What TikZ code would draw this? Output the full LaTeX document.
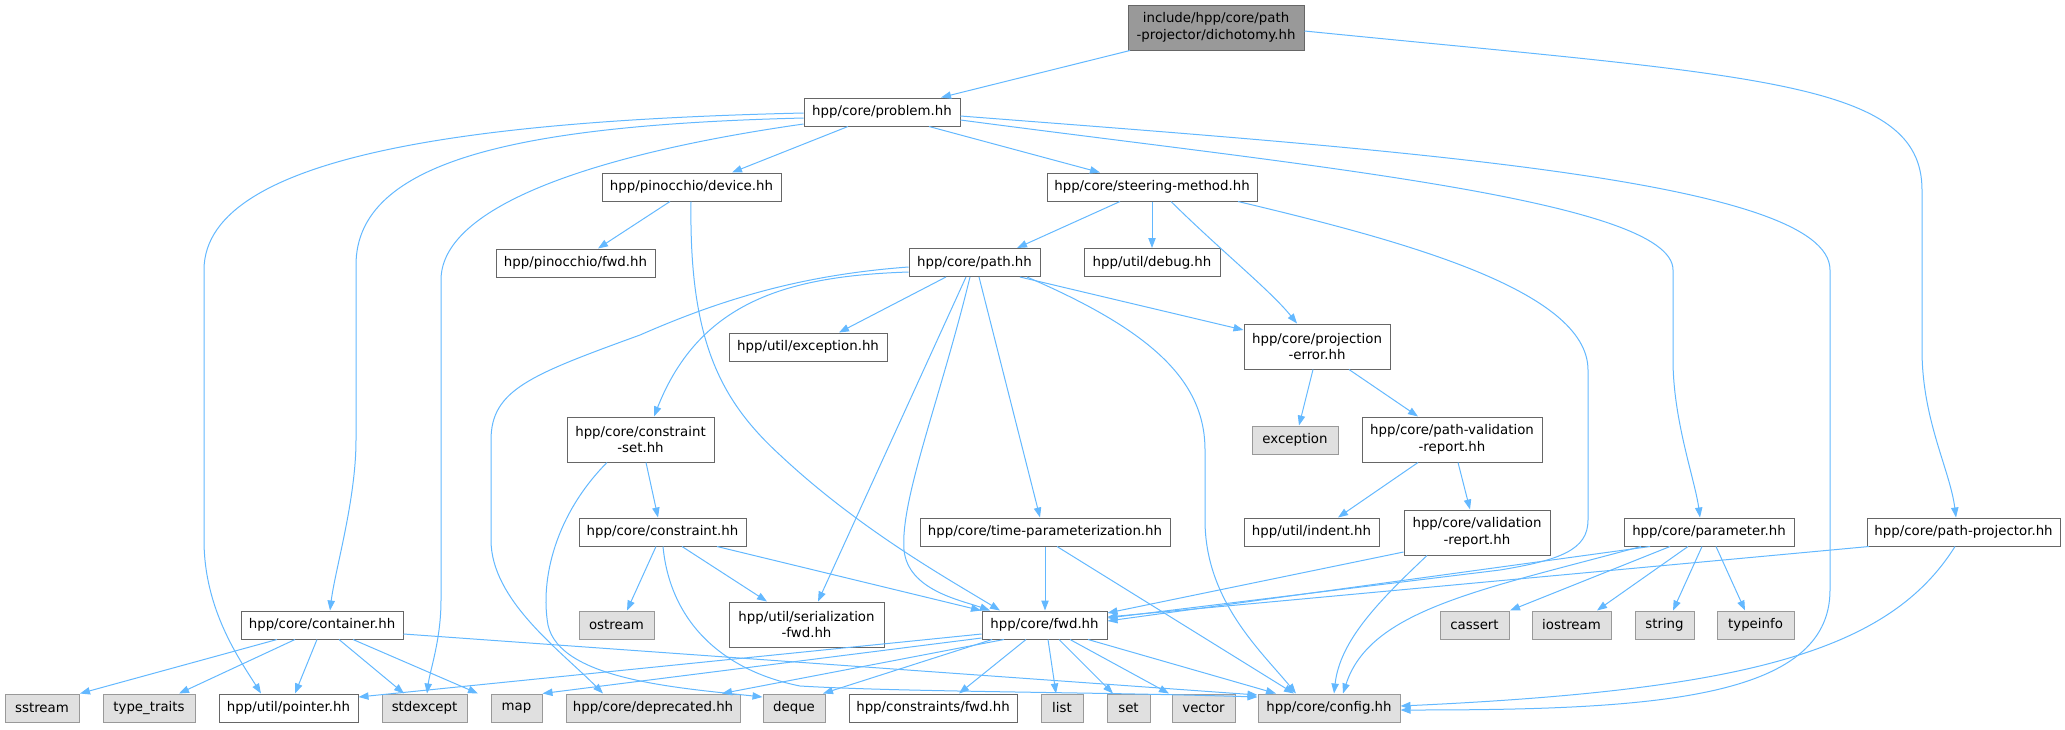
\documentclass[tikz,border=0pt]{standalone}
\usepackage{fontspec}
\setmainfont{DejaVu Sans}
\usetikzlibrary{arrows.meta}
\definecolor{edgec}{HTML}{63B8FF}
\definecolor{nodeb}{HTML}{666666}
\definecolor{extb}{HTML}{999999}
\definecolor{extf}{HTML}{E0E0E0}
\definecolor{rootf}{HTML}{999999}
\tikzset{
  nd/.style={draw=nodeb, fill=white, line width=0.75pt, inner sep=0pt, align=center,
    minimum height=21pt, font=\fontsize{10pt}{12.5pt}\selectfont},
  ext/.style={nd, draw=extb, fill=extf},
  root/.style={nd, draw=nodeb, fill=rootf},
  wd/.style={minimum width=#1*0.75pt},
  ht/.style={minimum height=#1*0.75pt},
  edg/.style={draw=edgec, line width=0.75pt, -{Triangle[length=7.5pt,width=5.5pt]}},
}
\begin{document}
\begin{tikzpicture}[x=0.75pt,y=-0.75pt]
\useasboundingbox (0,0) rectangle (2065,729);
% nodes
\node[root, wd=176, ht=45] (dich) at (1216,27.5) {include/hpp/core/path\\-projector/dichotomy.hh};
\node[nd, wd=156] (problem) at (882,112) {hpp/core/problem.hh};
\node[nd, wd=179] (device) at (691.5,187) {hpp/pinocchio/device.hh};
\node[nd, wd=210] (steer) at (1152,187) {hpp/core/steering-method.hh};
\node[nd, wd=159] (pinfwd) at (575.5,263) {hpp/pinocchio/fwd.hh};
\node[nd, wd=131] (path) at (974.5,262.5) {hpp/core/path.hh};
\node[nd, wd=136] (debug) at (1152,262.5) {hpp/util/debug.hh};
\node[nd, wd=158] (uexc) at (808,347) {hpp/util/exception.hh};
\node[nd, wd=146, ht=45] (projerr) at (1317,346.5) {hpp/core/projection\\-error.hh};
\node[nd, wd=147, ht=45] (cset) at (640.5,439.5) {hpp/core/constraint\\-set.hh};
\node[ext, wd=86] (sexc) at (1295,440) {exception};
\node[nd, wd=180, ht=45] (pvr) at (1452,439.5) {hpp/core/path-validation\\-report.hh};
\node[nd, wd=167] (constr) at (662.5,532) {hpp/core/constraint.hh};
\node[nd, wd=250] (tparam) at (1045,532) {hpp/core/time-parameterization.hh};
\node[nd, wd=135] (indent) at (1311.5,532) {hpp/util/indent.hh};
\node[nd, wd=146, ht=45] (valrep) at (1477,532.5) {hpp/core/validation\\-report.hh};
\node[nd, wd=170] (param) at (1709,532) {hpp/core/parameter.hh};
\node[nd, wd=193] (pproj) at (1963.5,532) {hpp/core/path-projector.hh};
\node[nd, wd=162] (cont) at (322,625) {hpp/core/container.hh};
\node[ext, wd=75] (ostream) at (616.5,625) {ostream};
\node[nd, wd=155, ht=45] (serfwd) at (806.5,624.5) {hpp/util/serialization\\-fwd.hh};
\node[nd, wd=125] (fwd) at (1044.5,625) {hpp/core/fwd.hh};
\node[ext, wd=69] (cassert) at (1474.5,625) {cassert};
\node[ext, wd=79] (iostream) at (1571.5,625) {iostream};
\node[ext, wd=59] (string) at (1664.5,625) {string};
\node[ext, wd=77] (typeinfo) at (1755.5,625) {typeinfo};
\node[ext, wd=74] (sstream) at (42,708) {sstream};
\node[ext, wd=92] (ttraits) at (149,708) {type\_traits};
\node[nd, wd=139] (pointer) at (288.5,708) {hpp/util/pointer.hh};
\node[ext, wd=85] (stdexc) at (424.5,708) {stdexcept};
\node[ext, wd=51] (map) at (516.5,708) {map};
\node[ext, wd=174] (depr) at (653,708) {hpp/core/deprecated.hh};
\node[ext, wd=62] (deque) at (794,708) {deque};
\node[nd, wd=168] (cfwd) at (933,708) {hpp/constraints/fwd.hh};
\node[ext, wd=42] (list) at (1062,708) {list};
\node[ext, wd=43] (set) at (1128.5,708) {set};
\node[ext, wd=63] (vector) at (1203.5,708) {vector};
\node[ext, wd=142] (config) at (1329,708) {hpp/core/config.hh};
% edges from root
\draw[edg] (1130,0 |- dich.south) -- (941,0 |- problem.north);
\draw[edg] (dich.east |- 0,31) .. controls (1754,76) and (1922,80) .. (1922,190) -- (1922,350) .. controls (1922,420) and (1950,470) .. (1956,0 |- pproj.north);
% problem
\draw[edg] (problem.west |- 0,113) .. controls (500,120) and (204,150) .. (204,270) -- (204,540) .. controls (204,610) and (240,660) .. (261,0 |- pointer.north);
\draw[edg] (problem.west |- 0,118) .. controls (520,125) and (356,160) .. (356,265) -- (356,440) .. controls (356,500) and (335,570) .. (330,0 |- cont.north);
\draw[edg] (problem.west |- 0,124) .. controls (620,150) and (441,200) .. (441,280) -- (441,600) .. controls (441,640) and (430,670) .. (427,0 |- stdexc.north);
\draw[edg] (848,0 |- problem.south) -- (732,0 |- device.north);
\draw[edg] (929,0 |- problem.south) -- (1100,0 |- steer.north);
\draw[edg] (problem.east |- 0,120) .. controls (1300,165) and (1673,200) .. (1673,270) -- (1673,360) .. controls (1673,420) and (1695,480) .. (1700,0 |- param.north);
\draw[edg] (problem.east |- 0,116) .. controls (1400,150) and (1830,180) .. (1830,270) -- (1830,590) .. controls (1830,700) and (1650,710) .. (config.east |- 0,710);
% device
\draw[edg] (670,0 |- device.south) -- (598,0 |- pinfwd.north);
\draw[edg] (691,0 |- device.south) .. controls (689,340) and (720,400) .. (780,455) .. controls (860,530) and (950,580) .. (1000,0 |- fwd.north);
% steering
\draw[edg] (1120,0 |- steer.south) -- (1017,0 |- path.north);
\draw[edg] (1152,0 |- steer.south) -- (1152,0 |- debug.north);
\draw[edg] (1171,0 |- steer.south) .. controls (1220,250) and (1270,290) .. (1297,0 |- projerr.north);
\draw[edg] (1238,0 |- steer.south) .. controls (1400,240) and (1588,290) .. (1588,370) -- (1588,520) .. controls (1588,550) and (1560,560) .. (1500,570) -- (fwd.east |- 0,618);
% path
\draw[edg] (946,0 |- path.south) -- (839,0 |- uexc.north);
\draw[edg] (path.west |- 0,272) .. controls (790,276) and (700,300) .. (654,0 |- cset.north);
\draw[edg] (path.west |- 0,267) .. controls (800,275) and (720,300) .. (640,335) .. controls (530,375) and (491,390) .. (491,440) -- (491,540) .. controls (491,600) and (560,650) .. (603,0 |- depr.north);
\draw[edg] (966,0 |- path.south) -- (818,0 |- serfwd.north);
\draw[edg] (970,0 |- path.south) .. controls (940,400) and (900,500) .. (904,550) .. controls (908,590) and (960,600) .. (990,0 |- fwd.north);
\draw[edg] (979,0 |- path.south) -- (1040,0 |- tparam.north);
\draw[edg] (1027,0 |- path.south) .. controls (1150,330) and (1205,380) .. (1205,450) -- (1205,520) .. controls (1205,600) and (1260,650) .. (1296,0 |- config.north);
\draw[edg] (1020,0 |- path.south) -- (projerr.west |- 0,330);
% projection error, path validation, validation report
\draw[edg] (1313,0 |- projerr.south) -- (1299,0 |- sexc.north);
\draw[edg] (1349,0 |- projerr.south) -- (1418,0 |- pvr.north);
\draw[edg] (1418,0 |- pvr.south) -- (1338,0 |- indent.north);
\draw[edg] (1458,0 |- pvr.south) -- (1470,0 |- valrep.north);
\draw[edg] (valrep.west |- 0,552) -- (fwd.east |- 0,613);
\draw[edg] (1427,0 |- valrep.south) .. controls (1380,600) and (1340,640) .. (1334,0 |- config.north);
% constraint set, constraint
\draw[edg] (646,0 |- cset.south) -- (658,0 |- constr.north);
\draw[edg] (607,0 |- cset.south) .. controls (555,515) and (540,580) .. (548,625) .. controls (560,680) and (680,688) .. (deque.west |- 0,697);
\draw[edg] (656,0 |- constr.south) -- (627,0 |- ostream.north);
\draw[edg] (682,0 |- constr.south) -- (767,0 |- serfwd.north);
\draw[edg] (717,0 |- constr.south) -- (981,0 |- fwd.north);
\draw[edg] (663,0 |- constr.south) .. controls (670,620) and (720,670) .. (800,686) .. controls (900,692) and (1100,692) .. (config.west |- 0,697);
% time parameterization
\draw[edg] (1045,0 |- tparam.south) -- (1045,0 |- fwd.north);
\draw[edg] (1057,0 |- tparam.south) -- (1294,0 |- config.north);
% parameter
\draw[edg] (1650,0 |- param.south) -- (fwd.east |- 0,621);
\draw[edg] (1641,0 |- param.south) .. controls (1480,590) and (1370,610) .. (1343,0 |- config.north);
\draw[edg] (1670,0 |- param.south) -- (1510,0 |- cassert.north);
\draw[edg] (1688,0 |- param.south) -- (1597,0 |- iostream.north);
\draw[edg] (1702,0 |- param.south) -- (1673,0 |- string.north);
\draw[edg] (1716,0 |- param.south) -- (1745,0 |- typeinfo.north);
% path projector
\draw[edg] (1869,0 |- pproj.south) -- (fwd.east |- 0,617);
\draw[edg] (1955,0 |- pproj.south) .. controls (1890,650) and (1750,690) .. (config.east |- 0,706);
% container
\draw[edg] (277,0 |- cont.south) -- (80,0 |- sstream.north);
\draw[edg] (295,0 |- cont.south) -- (179,0 |- ttraits.north);
\draw[edg] (317,0 |- cont.south) -- (295,0 |- pointer.north);
\draw[edg] (339,0 |- cont.south) -- (404,0 |- stdexc.north);
\draw[edg] (353,0 |- cont.south) -- (478,0 |- map.north);
\draw[edg] (cont.east |- 0,634) -- (config.west |- 0,695);
% fwd
\draw[edg] (fwd.west |- 0,634) -- (pointer.east |- 0,697);
\draw[edg] (fwd.west |- 0,638) -- (map.north east);
\draw[edg] (992,0 |- fwd.south) -- (823,0 |- deque.north);
\draw[edg] (1004,0 |- fwd.south) -- (722,0 |- depr.north);
\draw[edg] (1026,0 |- fwd.south) -- (959,0 |- cfwd.north);
\draw[edg] (1048,0 |- fwd.south) -- (1056,0 |- list.north);
\draw[edg] (1059,0 |- fwd.south) -- (1113,0 |- set.north);
\draw[edg] (1070,0 |- fwd.south) -- (1169,0 |- vector.north);
\draw[edg] (1088,0 |- fwd.south) -- (1276,0 |- config.north);
\end{tikzpicture}
\end{document}
